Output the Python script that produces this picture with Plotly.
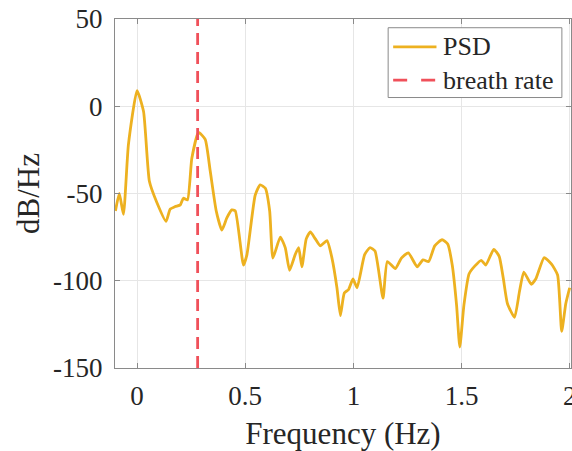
import plotly.graph_objects as go

# Power spectral density samples (Hz, dB/Hz)
freq = [-0.1, -0.082, -0.063, -0.04, 0.0, 0.03, 0.057, 0.091, 0.134, 0.153,
        0.176, 0.2, 0.214, 0.233, 0.253, 0.284, 0.315, 0.338, 0.366, 0.392,
        0.415, 0.438, 0.454, 0.492, 0.508, 0.546, 0.569, 0.593, 0.613, 0.628,
        0.662, 0.685, 0.705, 0.731, 0.747, 0.762, 0.782, 0.801, 0.824, 0.847,
        0.878, 0.901, 0.924, 0.94, 0.958, 0.978, 0.998, 1.017, 1.052, 1.077,
        1.1, 1.137, 1.157, 1.194, 1.222, 1.254, 1.295, 1.322, 1.348, 1.376,
        1.41, 1.436, 1.457, 1.477, 1.492, 1.511, 1.535, 1.562, 1.591, 1.612,
        1.649, 1.674, 1.693, 1.712, 1.745, 1.768, 1.788, 1.822, 1.843, 1.882,
        1.916, 1.944, 1.963, 1.982, 2.0]
psd_db = [-60, -50, -62, -22, 9, -3, -43, -55, -66, -59,
          -57.5, -56.5, -52.7, -53.7, -30, -15, -19, -37, -60, -71,
          -64, -59.4, -60, -91, -85, -51, -45, -47, -60, -87,
          -75, -81, -94, -85, -81, -92, -76, -72, -76, -80,
          -77, -87, -104, -120, -107, -105, -99, -104, -85, -81,
          -83, -110, -89, -93, -87, -84, -92, -88, -89, -80,
          -76.5, -79, -91, -114, -138, -114, -96, -91.5, -88.3, -91,
          -82, -86, -98.6, -113, -121, -106, -95, -102, -99, -86.7,
          -90.5, -96.7, -129, -113, -104]

breath_rate_hz = 0.28

x_ticks = [0, 0.5, 1, 1.5, 2]
x_tick_text = ["0", "0.5", "1", "1.5", "2"]
y_ticks = [50, 0, -50, -100, -150]
y_tick_text = ["50", "0", "-50", "-100", "-150"]

FONT = "Liberation Serif, Times New Roman, serif"
TEXT = "#262626"
PSD_COLOR = "#EDB120"
RATE_COLOR = "#F0505A"
LINE_W = 2.8

fig = go.Figure()
fig.add_trace(go.Scatter(
    x=freq, y=psd_db, mode="lines", name="PSD",
    line=dict(color=PSD_COLOR, width=LINE_W, shape="spline", smoothing=0.5),
))
fig.add_trace(go.Scatter(
    x=[breath_rate_hz, breath_rate_hz], y=[-150, 50], mode="lines",
    name="breath rate",
    line=dict(color=RATE_COLOR, width=LINE_W, dash="12px,7px"),
))

axis_common = dict(
    showline=True, linecolor="#8a8a8a", linewidth=1, mirror="ticks",
    ticks="inside", ticklen=5, tickcolor="#8a8a8a",
    showgrid=True, gridcolor="#e6e6e6", gridwidth=1,
    zeroline=False, ticklabeloverflow="allow", automargin=False,
    tickfont=dict(family=FONT, size=27, color=TEXT),
)

# Boxed legend in the upper-right corner (plot-area fractions)
legend_box = dict(x0=0.599, x1=0.98, y0=0.775, y1=0.975)
legend_rows = [
    dict(label="PSD", color=PSD_COLOR, dash="solid", y=0.92),
    dict(label="breath rate", color=RATE_COLOR, dash="14px,14px", y=0.825),
]
sample_x = (0.61, 0.705)
label_x = 0.715

shapes = [dict(type="rect", xref="paper", yref="paper",
               line=dict(color="#8a8a8a", width=1), fillcolor="white",
               layer="above", **legend_box)]
annotations = []
for row in legend_rows:
    shapes.append(dict(type="line", xref="paper", yref="paper", layer="above",
                       x0=sample_x[0], x1=sample_x[1], y0=row["y"], y1=row["y"],
                       line=dict(color=row["color"], width=LINE_W,
                                 dash=row["dash"])))
    annotations.append(dict(text=row["label"], xref="paper", yref="paper",
                            x=label_x, y=row["y"], xanchor="left",
                            yanchor="middle", showarrow=False,
                            font=dict(family=FONT, size=26, color=TEXT)))

fig.update_layout(
    width=572, height=451,
    margin=dict(l=115, r=1, t=19, b=83),
    paper_bgcolor="white", plot_bgcolor="white",
    xaxis=dict(range=[-0.102, 2.006], tickvals=x_ticks, ticktext=x_tick_text,
               ticklabelstandoff=4,
               title=dict(text="Frequency (Hz)", standoff=12,
                          font=dict(family=FONT, size=31, color=TEXT)),
               **axis_common),
    yaxis=dict(range=[-150, 50], tickvals=y_ticks, ticktext=y_tick_text,
               ticklabelstandoff=6,
               title=dict(text="dB/Hz", standoff=4,
                          font=dict(family=FONT, size=31, color=TEXT)),
               **axis_common),
    shapes=shapes,
    annotations=annotations,
    showlegend=False,
)

fig.write_html("out.html")
